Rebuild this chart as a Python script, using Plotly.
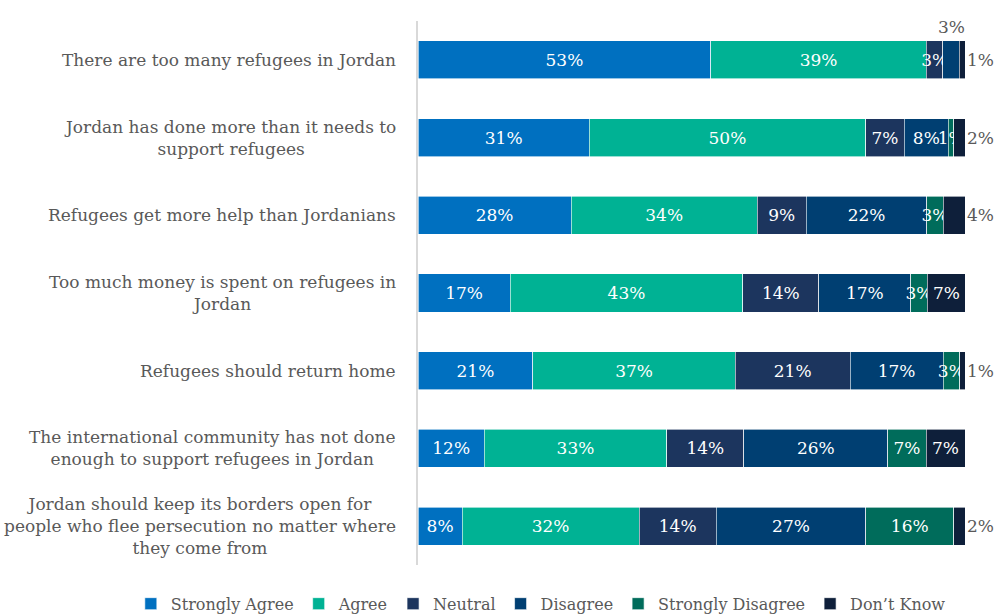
import plotly.graph_objects as go

statements = [
    "There are too many refugees in Jordan",
    "Jordan has done more than it needs to<br>support refugees",
    "Refugees get more help than Jordanians",
    "Too much money is spent on refugees in<br>Jordan",
    "Refugees should return home",
    "The international community has not done<br>enough to support refugees in Jordan",
    "Jordan should keep its borders open for<br>people who flee persecution no matter where<br>they come from",
]
row_ids = list(range(len(statements)))

responses = ["Strongly Agree", "Agree", "Neutral", "Disagree", "Strongly Disagree", "Don\u2019t Know"]
strongly_agree = [53, 31, 28, 17, 21, 12, 8]
agree = [39, 50, 34, 43, 37, 33, 32]
neutral = [3, 7, 9, 14, 21, 14, 14]
disagree = [3, 8, 22, 17, 17, 26, 27]
strongly_disagree = [0, 1, 3, 3, 3, 7, 16]
dont_know = [1, 2, 4, 7, 1, 7, 2]

series = [strongly_agree, agree, neutral, disagree, strongly_disagree, dont_know]
colors = ["#0070C0", "#00B294", "#1C355E", "#003F72", "#006C5B", "#0E1F3A"]

SERIF = "DejaVu Serif, Noto Serif, Times, serif"
gray = "#595959"
label_font = dict(family=SERIF, size=17, color="white")
gray_font = dict(family=SERIF, size=17, color=gray)

fig = go.Figure()
for name, vals, col in zip(responses, series, colors):
    texts = [f"{v}%" if v > 0 else "" for v in vals]
    if name == "Don\u2019t Know":
        texts = [""] * len(vals)  # labelled with annotations below
    if name == "Disagree":
        # first row's small segment is labelled above the bar instead
        texts[0] = ""
    fig.add_trace(go.Bar(
        name=name,
        y=row_ids,
        x=vals,
        orientation="h",
        marker=dict(color=col, line=dict(color="white", width=0.6)),
        text=texts,
        textposition="inside",
        insidetextanchor="middle",
        textangle=0,
        insidetextfont=label_font,
        cliponaxis=False,
        hoverinfo="skip",
    ))

# "Don't Know" labels: inside the end segment when wide enough, else just outside
for i, v in enumerate(dont_know):
    total = sum(s[i] for s in series)
    if v >= 5:
        fig.add_annotation(
            x=(total - v / 2) / total * 100, y=i, xref="x", yref="y",
            text=f"{v}%", showarrow=False, font=label_font,
        )
    else:
        fig.add_annotation(
            x=100, y=i, xref="x", yref="y", text=f"{v}%", showarrow=False,
            xanchor="left", xshift=0, font=gray_font,
        )

# Label for the thin "Disagree" segment of the first row, drawn above the bar
cum_before = strongly_agree[0] + agree[0] + neutral[0]
total0 = sum(s[0] for s in series)
fig.add_annotation(
    x=(cum_before + disagree[0] / 2) / total0 * 100, y=0, xref="x", yref="y",
    text=f"{disagree[0]}%", showarrow=False, yshift=33, font=gray_font,
)

# Category labels, centred line by line and right-aligned as a block
for i, s in enumerate(statements):
    fig.add_annotation(
        x=0, y=i, xref="paper", yref="y", text=s, showarrow=False,
        xanchor="right", xshift=-20, align="center", font=gray_font,
    )

fig.update_layout(
    width=1000, height=615,
    margin=dict(l=418, r=35, t=21, b=50, autoexpand=False),
    barmode="stack", barnorm="percent", bargap=0.51,
    plot_bgcolor="white", paper_bgcolor="white",
    uniformtext=dict(minsize=17, mode="show"),
    showlegend=True,
    legend=dict(
        orientation="h", x=-0.525, xanchor="left", xref="paper",
        y=-0.04, yanchor="top", yref="paper",
        font=dict(family=SERIF, size=16, color=gray),
        itemwidth=30, tracegroupgap=0, traceorder="normal",
    ),
    xaxis=dict(range=[0, 100], visible=False, fixedrange=True),
    yaxis=dict(
        autorange="reversed", showticklabels=False, showgrid=False,
        showline=True, linecolor="#D9D9D9", linewidth=2, zeroline=False,
        ticks="",
    ),
)

fig.write_html("out.html")
